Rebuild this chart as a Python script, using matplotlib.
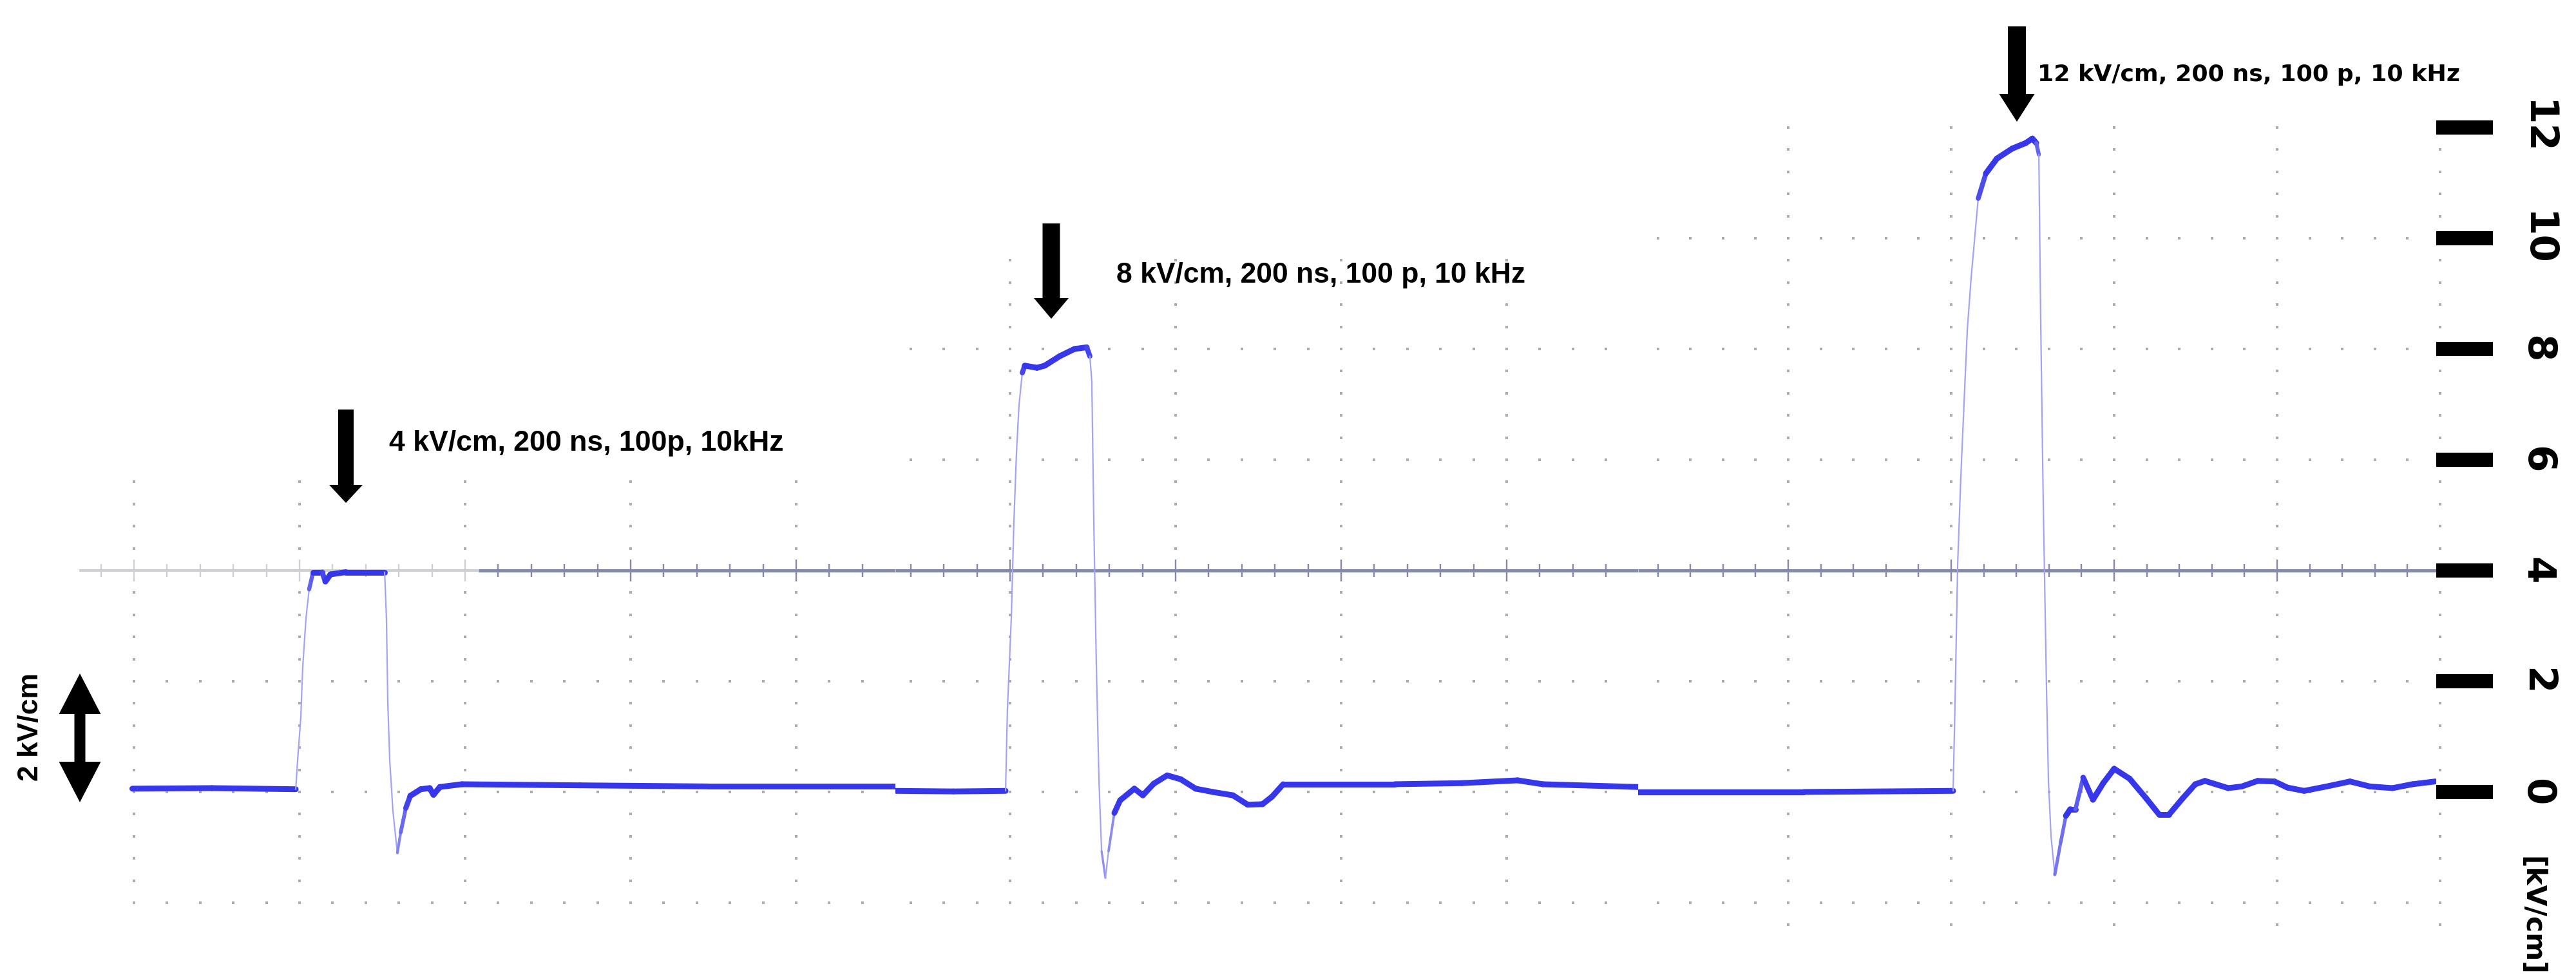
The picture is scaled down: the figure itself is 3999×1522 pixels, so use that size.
import numpy as np
import matplotlib
matplotlib.use("Agg")
import matplotlib.pyplot as plt
from matplotlib.collections import LineCollection
from matplotlib.patches import FancyArrowPatch, ArrowStyle

# ---------------- data: time in oscilloscope divisions, field in kV/cm ----------------
t1 = [-0.01, 0.47, 0.977, 0.988, 1.008, 1.019, 1.039, 1.058, 1.082, 1.136, 1.156, 1.187,
      1.280, 1.514, 1.525, 1.533, 1.545, 1.564, 1.584, 1.591, 1.611, 1.642, 1.669, 1.732,
      1.786, 1.809, 1.848, 1.981, 2.693, 3.471, 4.599]
e1 = [0.06, 0.07, 0.05, 0.56, 1.36, 2.24, 3.14, 3.66, 3.97, 3.97, 3.80, 3.93,
      3.97, 3.97, 3.14, 1.63, 0.56, -0.34, -0.91, -1.10, -0.73, -0.29, -0.07, 0.05,
      0.07, -0.05, 0.09, 0.14, 0.12, 0.10, 0.10]

t2 = [-0.693, -0.342, -0.027, -0.016, 0.008, 0.023, 0.039, 0.054, 0.074, 0.089, 0.163,
      0.210, 0.300, 0.389, 0.463, 0.482, 0.494, 0.506, 0.521, 0.537, 0.553, 0.576, 0.595,
      0.630, 0.665, 0.751, 0.802, 0.868, 0.949, 1.031, 1.121, 1.226, 1.346, 1.436, 1.525,
      1.584, 1.650, 2.323, 2.73, 3.066, 3.218, 3.794]
e2 = [0.02, 0.01, 0.02, 1.48, 3.17, 4.86, 6.13, 6.98, 7.57, 7.70, 7.66,
      7.70, 7.87, 8.00, 8.03, 7.87, 7.41, 4.86, 2.33, 0.21, -1.07, -1.55, -1.07,
      -0.38, -0.15, 0.06, -0.06, 0.15, 0.30, 0.23, 0.06, 0.00, -0.06, -0.23, -0.22,
      -0.08, 0.14, 0.14, 0.16, 0.21, 0.14, 0.09]

t3 = [-0.921, 0.095, 1.012, 1.024, 1.040, 1.059, 1.079, 1.099, 1.123, 1.146, 1.166,
      1.213, 1.281, 1.375, 1.458, 1.498, 1.522, 1.538, 1.549, 1.565, 1.585, 1.597, 1.613,
      1.636, 1.672, 1.704, 1.731, 1.763, 1.810, 1.870, 1.933, 2.000, 2.095, 2.198, 2.277,
      2.336, 2.419, 2.498, 2.557, 2.700, 2.783, 2.881, 2.984, 3.063, 3.166, 3.304, 3.447,
      3.569, 3.708, 3.830, 3.970]
e3 = [0.00, 0.00, 0.02, 1.65, 4.12, 5.67, 7.02, 8.35, 9.30, 10.06, 10.72,
      11.17, 11.44, 11.62, 11.72, 11.80, 11.72, 11.51, 8.59, 5.23, 1.87, 0.19, -0.81,
      -1.49, -0.91, -0.43, -0.31, -0.31, 0.26, -0.14, 0.16, 0.42, 0.24, -0.12, -0.41,
      -0.41, -0.12, 0.14, 0.20, 0.07, 0.10, 0.20, 0.19, 0.08, 0.02, 0.10, 0.19,
      0.10, 0.07, 0.14, 0.19]

pulse_labels = ["4 kV/cm, 200 ns, 100p, 10kHz",
                "8 kV/cm, 200 ns, 100 p, 10 kHz",
                "12 kV/cm, 200 ns, 100 p, 10 kHz"]
field_ticks = [0, 2, 4, 6, 8, 10, 12]
field_ticklabels = ["0", "2", "4", "6", "8", "10", "12"]
unit_label = "[kV/cm]"
scale_label = "2 kV/cm"
center_level = 4.0          # kV/cm at the scope screen centre line

# ---------------- layout (pixels) ----------------
W, H, DPI = 3999, 1522, 100
PX_PER_KV = 86.0
ZERO_PX = 1230.0
PT = 72.0 / DPI
panels = [dict(l=123, r=1390, x0=208, s=257.0),
          dict(l=1390, r=2543, x0=1568, s=257.0),
          dict(l=2543, r=3782, x0=2776, s=253.0)]
graticule = [dict(cols=[0, 1, 2, 3, 4], ctop=5.6, cbot=-2.0, rows=[2, 0, -2], rstart=0.0),
             dict(cols=[0, 1, 2, 3], ctop=9.6, cbot=-2.0, rows=[8, 6, 2, 0, -2], rstart=-0.6),
             dict(cols=[0, 1, 2, 3, 4], ctop=12.0, cbot=-2.4, rows=[10, 8, 6, 2, 0, -2], rstart=-0.8)]
LIGHT_END_DIV = 2.08        # end of the faint part of the centre line in panel 1

TRACE_DARK = np.array([0.21, 0.21, 0.92])
TRACE_LIGHT = np.array([0.64, 0.64, 0.96])
LINE_DARK = "#858aa6"
LINE_LIGHT = "#cfd0d6"
DOT = "#acacac"
SANS_A = ["Liberation Sans", "DejaVu Sans"]
SANS_B = ["DejaVu Sans"]

plt.rcParams["font.family"] = SANS_A

fig = plt.figure(figsize=(W / DPI, H / DPI), dpi=DPI)
fig.patch.set_facecolor("white")
ylo, yhi = (ZERO_PX - H) / PX_PER_KV, ZERO_PX / PX_PER_KV


def to_data(i, px, py):
    p = panels[i]
    return (px - p["x0"]) / p["s"], (ZERO_PX - py) / PX_PER_KV


axes = []
for p in panels:
    ax = fig.add_axes([p["l"] / W, 0, (p["r"] - p["l"]) / W, 1])
    ax.set_xlim((p["l"] - p["x0"]) / p["s"], (p["r"] - p["x0"]) / p["s"])
    ax.set_ylim(ylo, yhi)
    ax.set_facecolor("none")
    for sp in ax.spines.values():
        sp.set_visible(False)
    ax.set_xticks([])
    ax.set_yticks([])
    axes.append(ax)

# ---------------- graticule dots and centre line ----------------
for i, (ax, g, p) in enumerate(zip(axes, graticule, panels)):
    xmin, xmax = ax.get_xlim()
    for c in g["cols"]:
        k = np.arange(np.ceil((g["cbot"] - center_level) / 0.4 - 1e-6),
                      np.floor((g["ctop"] - center_level) / 0.4 + 1e-6) + 1)
        ys = center_level + 0.4 * k
        ys = ys[np.abs(ys - center_level) > 0.05]
        ax.plot(np.full_like(ys, c), ys, ls="none", marker="s", ms=2.8, mew=0,
                color=DOT, clip_on=False, zorder=1)
    for r in g["rows"]:
        k = np.arange(np.ceil(g["rstart"] / 0.2 - 1e-6), np.floor(xmax / 0.2 + 1e-6) + 1)
        xs = 0.2 * k
        ax.plot(xs, np.full_like(xs, r), ls="none", marker="s", ms=2.8, mew=0,
                color=DOT, clip_on=False, zorder=1)
    # centre line with ticks
    split = LIGHT_END_DIV if i == 0 else xmin
    if i == 0:
        ax.hlines(center_level, xmin, split, color=LINE_LIGHT, lw=4 * PT, zorder=2)
    ax.hlines(center_level, split, xmax, color=LINE_DARK, lw=5 * PT, zorder=2)
    k = np.arange(np.ceil(xmin / 0.2), np.floor(xmax / 0.2) + 1)
    xs = 0.2 * k
    major = np.isclose(xs, np.round(xs))
    half = np.where(major, 0.2, 0.12)
    cols = [LINE_LIGHT if x < split else LINE_DARK for x in xs]
    ax.vlines(xs, center_level - half, center_level + half, colors=cols,
              lw=2.4 * PT, zorder=2)


# ---------------- traces ----------------
def draw_trace(ax, t, e, s):
    t = np.asarray(t, float)
    e = np.asarray(e, float)
    pts = np.column_stack([t, e])
    segs = np.stack([pts[:-1], pts[1:]], axis=1)
    dx = np.abs(np.diff(t)) * s
    dy = np.abs(np.diff(e)) * PX_PER_KV
    slope = dy / np.maximum(dx, 1e-6)
    f = np.clip((slope - 2.0) / 6.0, 0, 1)
    lw = (9.0 * (1 - f) + 2.2 * f) * PT
    colors = [tuple(TRACE_DARK * (1 - a) + TRACE_LIGHT * a) for a in f]
    lc = LineCollection(segs, linewidths=lw, colors=colors, capstyle="round",
                        joinstyle="round", zorder=5)
    ax.add_collection(lc)


for ax, p, (t, e) in zip(axes, panels, [(t1, e1), (t2, e2), (t3, e3)]):
    draw_trace(ax, t, e, p["s"])


# ---------------- annotations ----------------
def block_arrow(ax, tail, tip, tail_w, head_w, head_l):
    style = ArrowStyle.Simple(head_length=head_l * PT, head_width=head_w * PT,
                              tail_width=tail_w * PT)
    a = FancyArrowPatch(tail, tip, arrowstyle=style, mutation_scale=1, color="black",
                        lw=0, shrinkA=0, shrinkB=0, clip_on=False, zorder=6)
    ax.add_patch(a)


arrow_px = [(0, 537, 636, 781, 24, 52, 28),
            (1, 1632, 347, 495, 27, 54, 32),
            (2, 3131, 41, 189, 28, 55, 43)]
for i, x, ytail, ytip, tw, hw, hl in arrow_px:
    block_arrow(axes[i], to_data(i, x, ytail), to_data(i, x, ytip), tw, hw, hl)

c = to_data(0, 124, 1146)
block_arrow(axes[0], c, to_data(0, 124, 1046), 17, 65, 63)
block_arrow(axes[0], c, to_data(0, 124, 1246), 17, 65, 63)

texts = []
text_px = [(0, 604, 700, 612, SANS_A),
           (1, 1733, 439, 633, SANS_A),
           (2, 3163, 126, 655, SANS_B)]
for (i, x, y, wpx, fam), s in zip(text_px, pulse_labels):
    tx = axes[i].text(*to_data(i, x, y), s, ha="left", va="baseline", fontsize=30,
                      fontweight="bold", family=fam, clip_on=False, zorder=7)
    texts.append((tx, wpx, "w"))

ts = axes[0].text(*to_data(0, 48, 1129), scale_label, rotation=90, ha="center",
                  va="center", fontsize=30, fontweight="bold", family=SANS_A,
                  clip_on=False)
texts.append((ts, 168, "h"))

tu = fig.text(3930 / W, 1 - 1422 / H, unit_label, rotation=-90, ha="center",
              va="center", fontsize=30, fontweight="bold", family=SANS_B)
texts.append((tu, 185, "h"))

ax3 = axes[2]
ax3.yaxis.tick_right()
ax3.set_yticks(field_ticks)
ax3.set_yticklabels(field_ticklabels, rotation=-90, fontweight="bold", fontsize=44,
                    family=SANS_B)
ax3.tick_params(axis="y", length=88 * PT, width=22 * PT, pad=38 * PT, color="black",
                direction="out")
for lab in ax3.get_yticklabels():
    lab.set_verticalalignment("center")
ax3.set_ylim(ylo, yhi)

fig.canvas.draw()
r = fig.canvas.get_renderer()
for tx, target, mode in texts:
    bb = tx.get_window_extent(r)
    cur = bb.width if mode == "w" else bb.height
    tx.set_fontsize(tx.get_fontsize() * target / cur)

fig.savefig("out.png", dpi=DPI, facecolor="white")
